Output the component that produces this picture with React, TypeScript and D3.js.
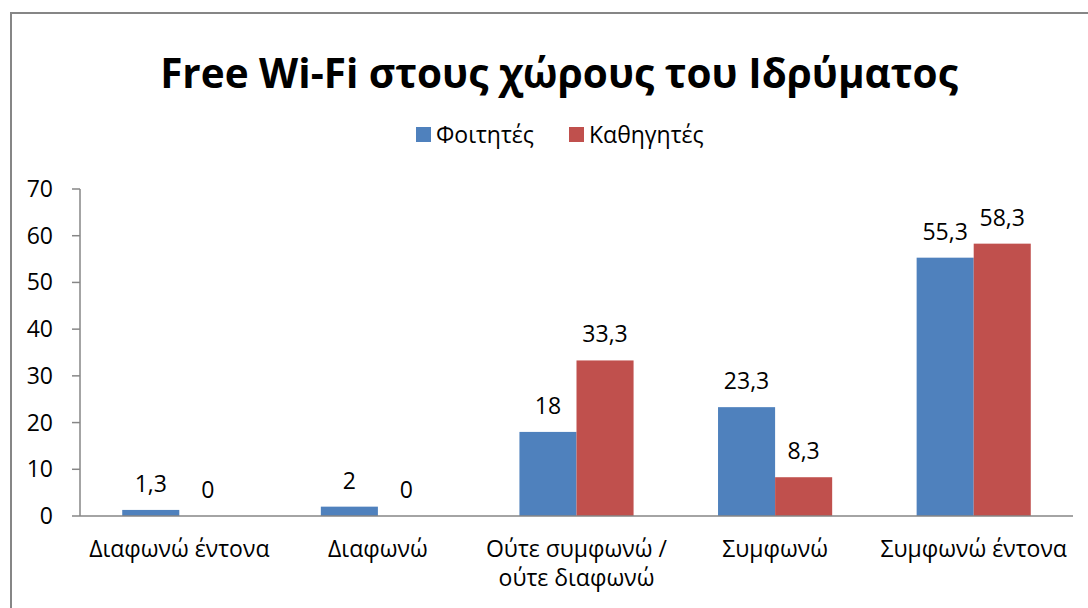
import React from 'react';
import * as d3 from 'd3';

const categories = ['Διαφωνώ έντονα', 'Διαφωνώ', 'Ούτε συμφωνώ / ούτε διαφωνώ', 'Συμφωνώ', 'Συμφωνώ έντονα'];
const categoryLines = [['Διαφωνώ έντονα'], ['Διαφωνώ'], ['Ούτε συμφωνώ /', 'ούτε διαφωνώ'], ['Συμφωνώ'], ['Συμφωνώ έντονα']];
const seriesNames = ['Φοιτητές', 'Καθηγητές'];
const students = [1.3, 2, 18, 23.3, 55.3];
const teachers = [0, 0, 33.3, 8.3, 58.3];
const yTicks = [0, 10, 20, 30, 40, 50, 60, 70];

const colors = ['#4F81BD', '#C0504D'];
const font = "'Open Sans', 'Noto Sans', sans-serif";
const fs = 23;

const App = () => {
  const width = 1088;
  const height = 608;
  const left = 80;
  const right = 1073;
  const top = 189;
  const bottom = 516;

  const x = d3.scaleBand().domain(categories).range([left, right]).paddingInner(0).paddingOuter(0);
  const inner = d3.scaleBand().domain(seriesNames).range([0, x.bandwidth()]).paddingInner(0).paddingOuter(0.74);
  const y = d3.scaleLinear().domain([0, 70]).range([bottom, top]);
  const series = [students, teachers];
  const fmt = (v: number) => String(v).replace('.', ',');

  return (
    <div style={{ position: 'fixed', left: 0, top: 0, width, height, background: '#fff' }}>
      <svg width={width} height={height} style={{ display: 'block' }}>
        <rect x={11} y={13} width={1200} height={700} fill="#fff" stroke="#868686" strokeWidth={2} />
        <text x={559} y={88} textAnchor="middle" fontFamily={font} fontWeight={700} fontSize={40.5} fill="#000">
          Free Wi-Fi στους χώρους του Ιδρύματος
        </text>

        {/* legend */}
        <rect x={416} y={127} width={15} height={15} fill={colors[0]} />
        <text x={436} y={143} fontFamily={font} fontSize={fs} fill="#000">{seriesNames[0]}</text>
        <rect x={569} y={127} width={15} height={15} fill={colors[1]} />
        <text x={589} y={143} fontFamily={font} fontSize={fs} fill="#000">{seriesNames[1]}</text>

        {/* y axis */}
        <line x1={left} x2={left} y1={top} y2={bottom} stroke="#868686" strokeWidth={1.5} />
        {yTicks.map(t => (
          <g key={t}>
            <line x1={72} x2={left} y1={y(t)} y2={y(t)} stroke="#868686" strokeWidth={1.5} />
            <text x={53} y={y(t) + 8} textAnchor="end" fontFamily={font} fontSize={fs} fill="#000">{t}</text>
          </g>
        ))}

        {/* bars */}
        {categories.map((c, i) => (
          <g key={c}>
            {series.map((s, j) => {
              const bx = (x(c) as number) + (inner(seriesNames[j]) as number);
              const bw = inner.bandwidth();
              return (
                <g key={j}>
                  <rect x={bx} y={y(s[i])} width={bw} height={bottom - y(s[i])} fill={colors[j]} />
                  <text x={bx + bw / 2} y={y(s[i]) - 18} textAnchor="middle" fontFamily={font} fontSize={fs} fill="#000">
                    {fmt(s[i])}
                  </text>
                </g>
              );
            })}
          </g>
        ))}

        {/* x axis */}
        <line x1={left} x2={right} y1={bottom} y2={bottom} stroke="#868686" strokeWidth={1.5} />
        {categories.map((c, i) => (
          <text key={c} x={(x(c) as number) + x.bandwidth() / 2} y={557} textAnchor="middle" fontFamily={font} fontSize={fs} fill="#000">
            {categoryLines[i].map((l, k) => (
              <tspan key={k} x={(x(c) as number) + x.bandwidth() / 2} dy={k === 0 ? 0 : 29}>{l}</tspan>
            ))}
          </text>
        ))}
      </svg>
    </div>
  );
};

export default App;
